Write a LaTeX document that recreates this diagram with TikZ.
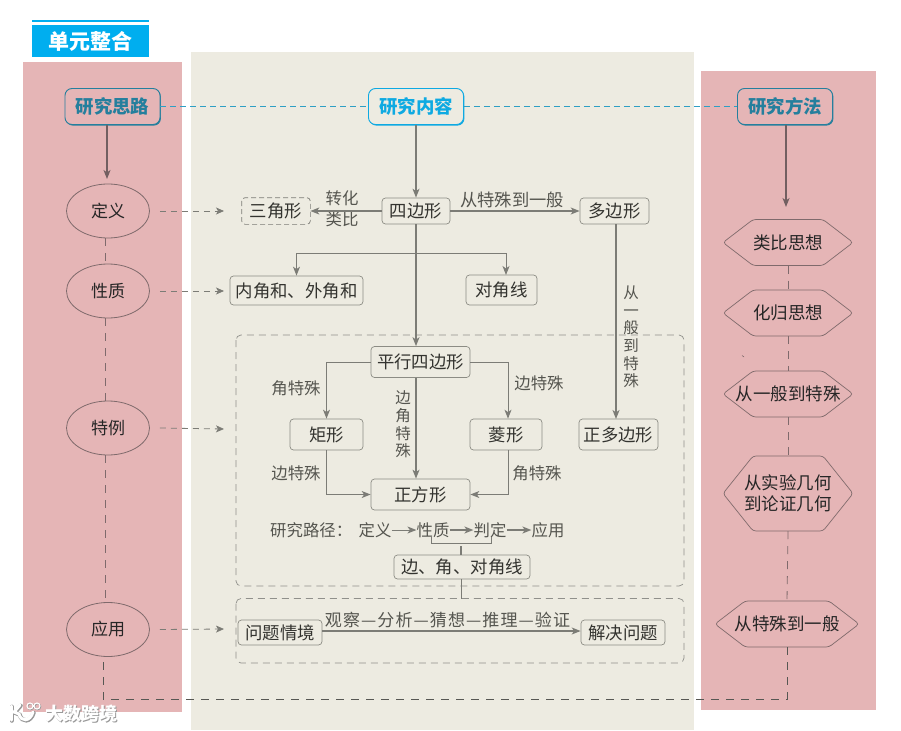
\documentclass[tikz,border=0pt]{standalone}
\usepackage{fontspec}
\setmainfont{Noto Sans CJK SC}
\usetikzlibrary{shapes.geometric,shadows,arrows.meta,calc}
\definecolor{pinkbg}{HTML}{E5B5B6}
\definecolor{midbg}{HTML}{EDEBE1}
\definecolor{cyanT}{HTML}{00AEEF}
\definecolor{boxln}{HTML}{8C8C84}
\definecolor{arrln}{HTML}{7C7C76}
\definecolor{pinkln}{HTML}{7F6A6C}
\definecolor{teal1}{HTML}{2E9FC4}
\definecolor{txtg}{HTML}{55554F}
\definecolor{txtd}{HTML}{33332F}
\tikzset{
 x=1pt,y=-1pt,
 fnt/.style={font=\fontsize{#1}{#1}\selectfont},
 blueb/.style={draw=#1,line width=0.9pt,rounded corners=7pt,minimum width=95pt,minimum height=36pt,inner sep=0pt,text=#1,font=\fontsize{18.4}{18}\selectfont\bfseries,general shadow={fill=#1,shadow xshift=0.9pt,shadow yshift=-1.1pt}},
 boxn/.style={draw=boxln,fill=midbg,line width=0.7pt,rounded corners=3.5pt,inner sep=0pt,text=txtd,font=\fontsize{17.4}{17}\selectfont},
 ell/.style={ellipse,draw=pinkln,fill=pinkbg,line width=0.8pt,minimum width=83pt,minimum height=54pt,inner sep=0pt,text=black!85,font=\fontsize{17}{17}\selectfont},
 lab/.style={text=txtg,font=\fontsize{16.4}{16}\selectfont,inner sep=0pt},
 vlab/.style={text=txtg,font=\fontsize{15.5}{17.6}\selectfont,inner sep=0pt,align=center},
 arr/.style={draw=arrln,line width=#1,-{Stealth[length=9pt,width=7pt,inset=2.5pt]}},
 arr/.default=1.1pt,
 plain/.style={draw=arrln,line width=1.1pt},
 dashg/.style={draw=arrln,line width=0.8pt,dash pattern=on 6pt off 5pt},
 dashp/.style={draw=pinkln,line width=0.8pt,dash pattern=on 8pt off 7pt},
 dasht/.style={draw=teal1,line width=0.8pt,dash pattern=on 6pt off 4pt},
 dbox/.style={draw=arrln!85,line width=0.7pt,dash pattern=on 7pt off 5pt,rounded corners=5pt},
 hexp/.style={draw=pinkln,fill=pinkbg,line width=0.7pt,rounded corners=3pt},
 hext/.style={inner sep=0pt,text=black!85,font=\fontsize{17.5}{21}\selectfont,align=center},
}
% name, cx, cy, half width, inner half width, half height, text
\newcommand{\hexnode}[7]{%
 \path[hexp] (#2-#4,#3) -- (#2-#5,#3-#6) -- (#2+#5,#3-#6) -- (#2+#4,#3) -- (#2+#5,#3+#6) -- (#2-#5,#3+#6) -- cycle;
 \node[hext,minimum height=2*#6 pt,minimum width=2*#5 pt] (#1) at (#2,#3) {#7};}
\begin{document}
\begin{tikzpicture}
\useasboundingbox (0,0) rectangle (901,730);
\fill[white] (0,0) rectangle (901,730);
% panels
\fill[pinkbg] (23,62) rectangle (182,712);
\fill[midbg] (191,52) rectangle (694,730);
\fill[pinkbg] (701,71) rectangle (876,710);
% title
\fill[cyanT] (32,20) rectangle (149,22);
\node[fill=cyanT,minimum width=117pt,minimum height=32pt,inner sep=0pt,text=white,font=\fontsize{21}{21}\selectfont\bfseries] (title) at (90.5,41) {\raisebox{-1pt}{单元整合}};
% dashed frames
\draw[dbox] (236,335) rectangle (684,586);
\draw[dbox] (236,598.5) rectangle (684,663);
% heads
\node[blueb={teal1!80!black},fill=pinkbg] (hL) at (112.5,106.5) {研究思路};
\node[blueb={teal1!80!black},fill=pinkbg] (hR) at (785,106.5) {研究方法};
\node[blueb={teal1!30!cyanT},fill=midbg] (hM) at (416,106.5) {研究内容};
% left column
\node[ell] (def) at (108,211) {定义};
\node[ell] (pro) at (108,291) {性质};
\node[ell] (spe) at (108,428) {特例};
\node[ell] (app) at (108,629.5) {应用};
% middle nodes
\node[boxn,draw=none,minimum width=68pt,minimum height=26pt] (tri) at (276,211) {三角形};
\draw[dbox,draw=arrln,rounded corners=3.5pt,dash pattern=on 5pt off 3pt] (tri.north west) rectangle (tri.south east);
\node[boxn,minimum width=68pt,minimum height=26pt] (qua) at (416,211) {四边形};
\node[boxn,minimum width=69pt,minimum height=26pt] (pol) at (614.5,211) {多边形};
\node[boxn,minimum width=133pt,minimum height=29pt] (ang) at (296.5,290.5) {内角和、外角和};
\node[boxn,minimum width=71pt,minimum height=30pt] (dia) at (501.5,290) {对角线};
\node[boxn,minimum width=99pt,minimum height=31pt] (par) at (420.5,362) {平行四边形};
\node[boxn,minimum width=73pt,minimum height=31pt] (rec) at (326.5,434.5) {矩形};
\node[boxn,minimum width=72pt,minimum height=31pt] (rho) at (506,434.5) {菱形};
\node[boxn,minimum width=79pt,minimum height=31pt] (reg) at (618.5,434.5) {正多边形};
\node[boxn,minimum width=99pt,minimum height=31pt] (squ) at (420.5,494.5) {正方形};
\node[boxn,minimum width=136pt,minimum height=24pt] (eds) at (462,567) {边、角、对角线};
\node[boxn,minimum width=84pt,minimum height=25pt] (pro1) at (280,632.5) {问题情境};
\node[boxn,minimum width=84pt,minimum height=25pt] (sol) at (623,632.5) {解决问题};
% path line
\node[lab,anchor=west] (pth) at (270,530) {研究路径：};
\node[lab] (p1) at (375,530) {定义};
\node[lab] (p2) at (433,530) {性质};
\node[lab] (p3) at (490,530) {判定};
\node[lab] (p4) at (548,530) {应用};
% labels
\node[lab] (l1) at (342,198) {转化};
\node[lab] (l2) at (342,219) {类比};
\node[lab,font=\fontsize{17.3}{17}\selectfont] (l3) at (512,200) {从特殊到一般};
\node[vlab] (l4) at (631,337) {从\\一\\般\\到\\特\\殊};
\node[lab] (l5) at (296,388) {角特殊};
\node[lab] (l6) at (539,383) {边特殊};
\node[vlab] (l7) at (403,424.5) {边\\角\\特\\殊};
\node[lab] (l8) at (296,473) {边特殊};
\node[lab] (l9) at (537,473) {角特殊};
\node[lab,font=\fontsize{17}{17}\selectfont\addfontfeature{LetterSpace=6.5}] (l10) at (447.5,620) {观察—分析—猜想—推理—验证};
% hexagons
\hexnode{h1}{788}{242.5}{65}{35}{23}{类比思想}
\hexnode{h2}{788}{313}{65}{35}{23}{化归思想}
\hexnode{h3}{788}{394}{65}{35}{23}{从一般到特殊}
\hexnode{h4}{788}{493.5}{65}{35}{37.5}{从实验几何\\到论证几何}
\hexnode{h5}{787}{624}{72}{42}{23}{从特殊到一般}
\draw[pinkln,line width=0.6pt] (742,355.5) -- (744,357);
% head dashes
\draw[dasht] (hL.east) -- (hM.west);
\draw[dasht] (hM.east) -- (hR.west);
% arrows in pink
\draw[arr,draw=pinkln!90!black,line width=1.2pt] ([xshift=-5.5pt]hL.south) -- ([xshift=-5.5pt]hL.south |- 0,179);
\draw[arr,draw=pinkln!90!black,line width=1.2pt] ([xshift=1pt]hR.south) -- ([xshift=1pt]hR.south |- 0,207);
% left dashed arrows
\coordinate (a1) at (224,211); \coordinate (a2) at (224,291); \coordinate (a3) at (224,429); \coordinate (a4) at (224,629);
\foreach \n/\e in {def/a1,pro/a2,spe/a3,app/a4}{
 \draw[dashg,-{Stealth[length=8pt,width=7pt,inset=2pt]}] ([xshift=10pt]\n.east) -- (\e);}
% column dashes
\draw[dashp] ([xshift=-3pt]def.south) -- ([xshift=-3pt]pro.north);
\draw[dashp] ([xshift=-3pt]pro.south) -- ([xshift=-3pt]spe.north);
\draw[dashp] ([xshift=-3pt]spe.south) -- ([xshift=-3pt]app.north);
\draw[dashp] (h1.south) -- (h2.north);
\draw[dashp] (h2.south) -- (h3.north);
\draw[dashp] (h3.south) -- (h4.north);
\draw[dashp] (h4.south) -- (h5.north);
\coordinate (cR) at (787,699);
\coordinate (cL) at (103,699);
\draw[dashp,draw=arrln!70!black] (h5.south) -- (cR) -- (cL) -- (cL |- app.south);
% middle connectors
\draw[arr=1.4pt] (hM.south) -- (qua.north);
\draw[arr=1.4pt] (qua.west) -- (tri.east);
\draw[arr=1.4pt] (qua.east) -- (pol.west);
\draw[arr=1.4pt] (qua.south) -- ([xshift=-4.5pt]par.north);
\coordinate (br) at (416,253);
\draw[arr=1pt] (br) -- (ang.north |- br) -- (ang.north);
\draw[arr=1pt] (br) -- (506,253) -- (506,275);
\draw[arr=1.4pt] ([xshift=1.5pt]pol.south) -- (616,419);
\draw[arr=1pt] (par.west) -| (rec.north);
\draw[arr=1pt] (par.east) -| ([xshift=2pt]rho.north);
\draw[arr=1.4pt] ([xshift=-4.5pt]par.south) -- ([xshift=-4.5pt]squ.north);
\draw[arr=1pt] (rec.south) |- (squ.west);
\draw[arr=1pt] ([xshift=2pt]rho.south) |- (squ.east);
\draw[arr=1pt] (p1.east) -- (p2.west);
\draw[arr=1.4pt] (p2.east) -- (p3.west);
\draw[arr=1.4pt] (p3.east) -- (p4.west);
\draw[arr=1.4pt] (pro1.east |- 0,631) -- (sol.west |- 0,631);
\coordinate (bj) at (461,546);
\draw[plain,line width=0.8pt] ([xshift=-2pt,yshift=1pt]p2.south) -- ++(0,7) -| ([xshift=1.5pt,yshift=1pt]p3.south);
\draw[plain] (bj) -- (bj |- eds.north);
\draw[plain,line width=0.8pt] (bj |- eds.south) -- (461,598.5);
% watermark
\foreach \c/\dx/\w in {black!40/0.7/4.2,white/0/3}{
 \begin{scope}[xshift=\dx pt,yshift=-\dx pt,draw=\c,line width=\w pt,line cap=round]
 \draw (11,706) -- (11,720);
 \draw (20,705) -- (14,712) -- (19,714) .. controls (21,722) and (30,722) .. (33,712);
 \end{scope}}
\foreach \c/\dx in {black!40/0.7,white/0}{
 \draw[draw=\c,line width=1.1pt,xshift=\dx pt,yshift=-\dx pt] (30,706) circle[radius=3] (37,706) circle[radius=3];
 \node[text=\c,inner sep=0pt,font=\fontsize{18}{18}\selectfont\bfseries,xshift=\dx pt,yshift=-\dx pt] at (81.5,714) {大数跨境};}
\end{tikzpicture}
\end{document}
